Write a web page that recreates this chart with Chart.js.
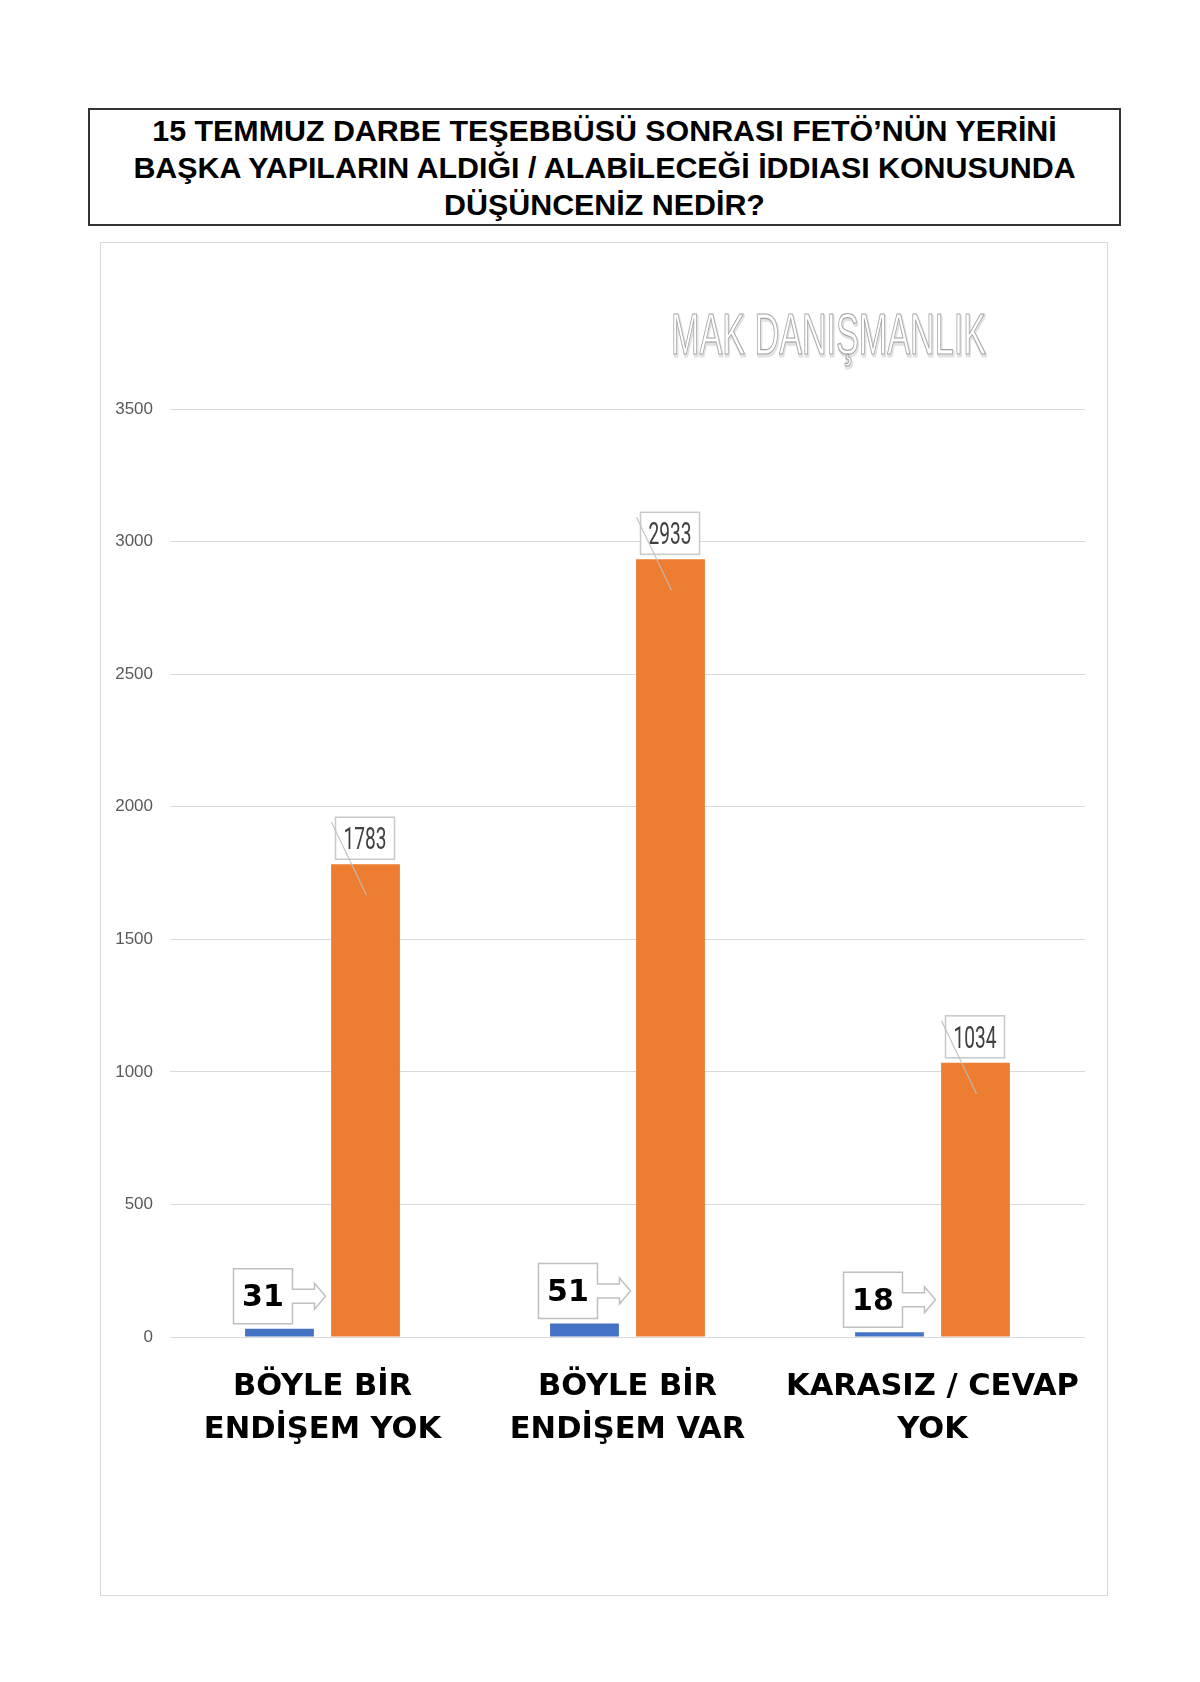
<!DOCTYPE html>
<html>
<head>
<meta charset="utf-8">
<script src="https://cdn.jsdelivr.net/npm/chart.js@4"></script>
<style>
body{margin:0;background:#fff;}
#page{position:relative;width:1200px;height:1682px;}
.title{
    position:absolute;left:88px;top:108px;width:1029px;height:112px;
    border:2px solid #333;
    font-family:"Liberation Sans",Arial,sans-serif;font-weight:bold;
    font-size:30.4px;line-height:37px;text-align:center;color:#000;
    padding-top:2px;
}
.panel{
    position:absolute;left:100px;top:242px;width:1006px;height:1352px;
    border:1px solid #d9d9d9;
}
#chart{position:absolute;left:0;top:0;}
</style>
</head>
<body>
<div id="page">
    <div class="title">15 TEMMUZ DARBE TEŞEBBÜSÜ SONRASI FETÖ’NÜN YERİNİ<br>BAŞKA YAPILARIN ALDIĞI / ALABİLECEĞİ İDDIASI KONUSUNDA<br>DÜŞÜNCENİZ NEDİR?</div>
    <div class="panel"></div>
    <canvas id="chart" width="1200" height="1682"></canvas>
</div>
<script>
// ====================================
// DATA
// ====================================

const categories = [
    ['BÖYLE BİR', 'ENDİŞEM YOK'],
    ['BÖYLE BİR', 'ENDİŞEM VAR'],
    ['KARASIZ / CEVAP', 'YOK']
];

const blueValues = [31, 51, 18];
const orangeValues = [1783, 2933, 1034];

const yMin = 0;
const yMax = 3500;
const yStep = 500;

const watermark = 'MAK DANIŞMANLIK';

// ====================================
// LABEL PLUGIN
// ====================================

const labelPlugin = {
    id: 'labelPlugin',
    afterDatasetsDraw(chart){
        const ctx = chart.ctx;

        // watermark
        ctx.save();
        ctx.font = '57px "Liberation Sans", Arial, sans-serif';
        const ww = ctx.measureText(watermark).width;
        ctx.translate(671, 354);
        ctx.scale(315 / ww, 1);
        ctx.lineJoin = 'round';
        ctx.strokeStyle = '#e2e2e2';
        ctx.lineWidth = 3;
        ctx.strokeText(watermark, 1.5, 1.5);
        ctx.fillStyle = '#ffffff';
        ctx.fillText(watermark, 0, 0);
        ctx.strokeStyle = '#a3a3a3';
        ctx.lineWidth = 1.2;
        ctx.strokeText(watermark, 0, 0);
        ctx.restore();

        // orange labels
        const orangeMeta = chart.getDatasetMeta(1);
        orangeMeta.data.forEach((bar, i)=>{
            const bx = bar.x - 0.5;
            const bottom = bar.y - 5;
            const w = 59, h = 42;
            const left = bx - w / 2, top = bottom - h;

            ctx.save();
            ctx.fillStyle = '#ffffff';
            ctx.fillRect(left, top, w, h);
            ctx.strokeStyle = '#c9c9c9';
            ctx.lineWidth = 1.5;
            ctx.strokeRect(left, top, w, h);

            const txt = String(orangeValues[i]);
            ctx.font = '31px Roboto, sans-serif';
            const tw = ctx.measureText(txt).width;
            ctx.translate(bx, top + h / 2 + 11);
            ctx.scale(43 / tw, 1);
            ctx.fillStyle = '#404040';
            ctx.textAlign = 'center';
            ctx.fillText(txt, 0, 0);
            ctx.restore();

            ctx.save();
            ctx.strokeStyle = 'rgba(190,190,190,0.9)';
            ctx.lineWidth = 1.2;
            ctx.beginPath();
            ctx.moveTo(bar.x - 34, bar.y - 42);
            ctx.lineTo(bar.x + 1, bar.y + 31);
            ctx.stroke();
            ctx.restore();
        });

        // blue callouts
        const blueMeta = chart.getDatasetMeta(0);
        blueMeta.data.forEach((bar, i)=>{
            const L = bar.x - 46, R = bar.x + 13;
            const B = bar.y - 5, T = B - 55;
            const yc = (T + B) / 2;
            const s = bar.x + 35, tip = bar.x + 46;

            ctx.save();
            ctx.beginPath();
            ctx.moveTo(L, T);
            ctx.lineTo(R, T);
            ctx.lineTo(R, yc - 7);
            ctx.lineTo(s, yc - 7);
            ctx.lineTo(s, yc - 13);
            ctx.lineTo(tip, yc);
            ctx.lineTo(s, yc + 13);
            ctx.lineTo(s, yc + 7);
            ctx.lineTo(R, yc + 7);
            ctx.lineTo(R, B);
            ctx.lineTo(L, B);
            ctx.closePath();
            ctx.fillStyle = '#ffffff';
            ctx.fill();
            ctx.strokeStyle = '#bfbfbf';
            ctx.lineWidth = 1.5;
            ctx.stroke();

            ctx.font = 'bold 30px "DejaVu Sans", sans-serif';
            ctx.fillStyle = '#000000';
            ctx.textAlign = 'center';
            ctx.fillText(String(blueValues[i]), (L + R) / 2, yc + 10);
            ctx.restore();
        });
    }
};

// ====================================
// CHART
// ====================================

const ctxChart = document.getElementById('chart').getContext('2d');
const surveyChart = new Chart(ctxChart, {
    type: 'bar',
    data: {
        labels: categories,
        datasets: [{
            label: 'Seri 1',
            data: blueValues,
            backgroundColor: '#4472C4'
        },{
            label: 'Seri 2',
            data: orangeValues,
            backgroundColor: '#ED7D31'
        }]
    },
    options: {
        responsive: false,
        animation: false,
        devicePixelRatio: 1,
        categoryPercentage: 0.564,
        barPercentage: 0.8,
        layout: {
            padding: { left: 100, right: 115, top: 409, bottom: 225 }
        },
        plugins: {
            legend: { display: false },
            tooltip: { enabled: false }
        },
        scales: {
            x: {
                grid: { display: false, drawTicks: false },
                border: { display: false },
                afterFit(scale){ scale.height = 120; },
                ticks: {
                    padding: 29,
                    color: '#000000',
                    maxRotation: 0,
                    autoSkip: false,
                    font: { family: '"DejaVu Sans", sans-serif', weight: 'bold', size: 30.5, lineHeight: 1.4 }
                }
            },
            y: {
                min: yMin,
                max: yMax,
                grid: { color: '#d9d9d9', lineWidth: 1, drawTicks: false },
                border: { display: false },
                afterFit(scale){ scale.width = 70; },
                ticks: {
                    stepSize: yStep,
                    padding: 17,
                    color: '#595959',
                    callback: (v)=>String(v),
                    font: { family: '"Liberation Sans", Arial, sans-serif', size: 17 }
                }
            }
        }
    },
    plugins: [labelPlugin]
});
</script>
</body>
</html>
